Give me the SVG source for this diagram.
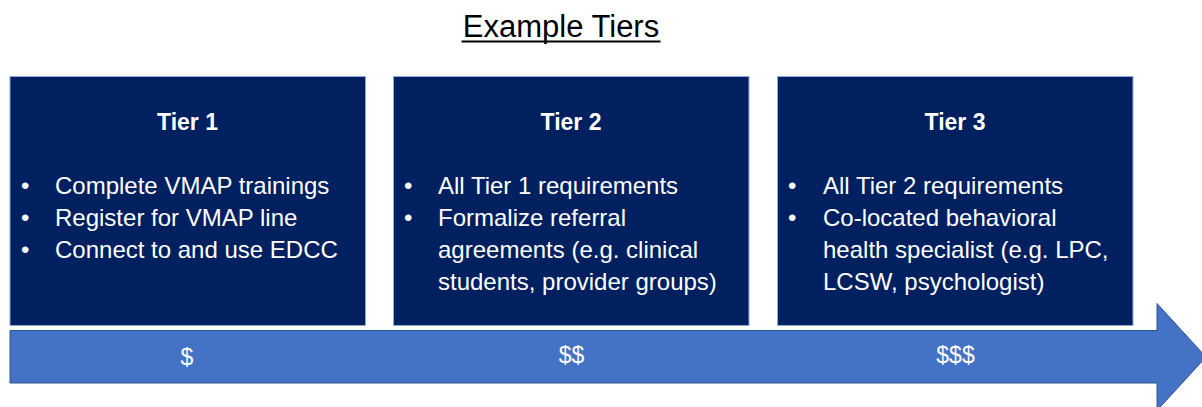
<svg xmlns="http://www.w3.org/2000/svg" width="1202" height="407" viewBox="0 0 1202 407">
  <style>
    .title { font-family: "Liberation Sans", Arial, sans-serif; font-size: 31px; fill: #000000; }
    .box { fill: #002060; stroke: #8FAADC; stroke-width: 1; }
    .head { font-family: "Liberation Sans", Arial, sans-serif; font-size: 23px; font-weight: bold; fill: #ffffff; text-anchor: middle; }
    .item { font-family: "Liberation Sans", Arial, sans-serif; font-size: 24px; fill: #ffffff; }
    .cost { font-family: "Liberation Sans", Arial, sans-serif; font-size: 23px; fill: #ffffff; text-anchor: middle; }
    .arrow { fill: #4472C4; stroke: #2F528F; stroke-width: 1; }
  </style>

  <!-- heading -->
  <text class="title" x="561" y="37" text-anchor="middle">Example Tiers</text>
  <rect x="461.5" y="40.5" width="199" height="2" fill="#000000"/>

  <!-- cost arrow along the bottom -->
  <g id="connectors">
    <path class="arrow" d="M10,330.5 H1157 V303.5 L1206,357 L1157,410.5 V383 H10 Z"/>
    <text class="cost" x="187" y="365">$</text>
    <text class="cost" x="571.5" y="363">$$</text>
    <text class="cost" x="955.5" y="363">$$$</text>
  </g>

  <!-- tier 1 -->
  <g id="tier1">
    <rect class="box" x="10" y="76.5" width="355.5" height="249"/>
    <text class="head" x="187.5" y="130">Tier 1</text>
    <text class="item" x="21" y="194">•</text>
    <text class="item" x="55" y="194">Complete VMAP trainings</text>
    <text class="item" x="21" y="226">•</text>
    <text class="item" x="55" y="226">Register for VMAP line</text>
    <text class="item" x="21" y="258">•</text>
    <text class="item" x="55" y="258">Connect to and use EDCC</text>
  </g>

  <!-- tier 2 -->
  <g id="tier2">
    <rect class="box" x="393.5" y="76.5" width="355.5" height="249"/>
    <text class="head" x="571" y="130">Tier 2</text>
    <text class="item" x="404" y="194">•</text>
    <text class="item" x="438" y="194">All Tier 1 requirements</text>
    <text class="item" x="404" y="226">•</text>
    <text class="item" x="438" y="226">Formalize referral</text>
    <text class="item" x="438" y="258">agreements (e.g. clinical</text>
    <text class="item" x="438" y="290">students, provider groups)</text>
  </g>

  <!-- tier 3 -->
  <g id="tier3">
    <rect class="box" x="777.5" y="76.5" width="355.5" height="249"/>
    <text class="head" x="955" y="130">Tier 3</text>
    <text class="item" x="788" y="194">•</text>
    <text class="item" x="823" y="194">All Tier 2 requirements</text>
    <text class="item" x="788" y="226">•</text>
    <text class="item" x="823" y="226">Co-located behavioral</text>
    <text class="item" x="823" y="258">health specialist (e.g. LPC,</text>
    <text class="item" x="823" y="290">LCSW, psychologist)</text>
  </g>
</svg>
